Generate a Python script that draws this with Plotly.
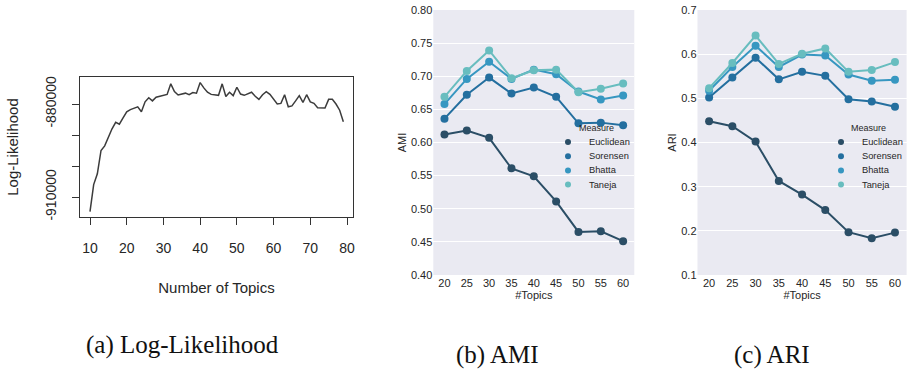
import plotly.graph_objects as go

# ---------------- data ----------------
ll_topics = list(range(10, 80))
ll_values = [
    -914700, -906000, -902500, -895000, -893500, -890500, -888000, -885900, -886500, -884500,
    -882500, -881800, -881300, -880900, -882500, -879300, -878000, -879000, -877800, -877500,
    -877100, -876900, -873500, -876000, -877100, -876800, -876500, -877000, -876300, -876500,
    -873100, -874800, -876200, -876900, -877100, -877200, -873500, -877600, -876200, -877300,
    -874600, -876800, -877200, -876700, -876200, -877500, -878500, -877000, -876000, -876900,
    -878300, -880000, -879800, -877000, -880900, -880600, -879000, -877300, -879500, -877000,
    -879300, -879800, -881200, -881300, -881300, -878500, -878500, -880000, -882000, -885700,
]
ll_tickvals = [-910000, -900000, -890000, -880000]
ll_ticktext = ["-910000", "", "", "-880000"]
ll_xticks = [10, 20, 30, 40, 50, 60, 70, 80]

topics = ["20", "25", "30", "35", "40", "45", "50", "55", "60"]
measures = ["Euclidean", "Sorensen", "Bhatta", "Taneja"]
colors = ["#2b4e66", "#246f9f", "#3797c1", "#68bdbf"]

ami_euclidean = [0.612, 0.618, 0.607, 0.561, 0.549, 0.511, 0.465, 0.466, 0.451]
ami_sorensen = [0.636, 0.672, 0.698, 0.674, 0.683, 0.669, 0.629, 0.630, 0.626]
ami_bhatta = [0.658, 0.696, 0.722, 0.696, 0.710, 0.703, 0.677, 0.665, 0.671]
ami_taneja = [0.669, 0.708, 0.739, 0.697, 0.709, 0.710, 0.676, 0.681, 0.689]

ari_euclidean = [0.448, 0.437, 0.402, 0.313, 0.282, 0.247, 0.197, 0.183, 0.196]
ari_sorensen = [0.502, 0.547, 0.592, 0.543, 0.560, 0.551, 0.498, 0.493, 0.481]
ari_bhatta = [0.517, 0.571, 0.619, 0.571, 0.599, 0.597, 0.554, 0.540, 0.542]
ari_taneja = [0.523, 0.580, 0.642, 0.578, 0.601, 0.613, 0.560, 0.564, 0.582]

ami_series = [ami_euclidean, ami_sorensen, ami_bhatta, ami_taneja]
ari_series = [ari_euclidean, ari_sorensen, ari_bhatta, ari_taneja]

W, H = 907, 373
def px_x(p):
    return p / W
def px_y(p):
    return 1 - p / H

SANS = "Liberation Sans, Arial, sans-serif"
SERIF = "Liberation Serif, DejaVu Serif, serif"
TXT = "#262626"

fig = go.Figure()

# ---------- panel (a) ----------
fig.add_trace(go.Scatter(
    x=ll_topics, y=ll_values, mode="lines",
    line=dict(color="#3c3c3c", width=1.5),
    xaxis="x", yaxis="y", showlegend=False,
))

# ---------- panels (b), (c) ----------
for series, xa, ya in [(ami_series, "x2", "y2"), (ari_series, "x3", "y3")]:
    for name, vals, col in zip(measures, series, colors):
        fig.add_trace(go.Scatter(
            x=topics, y=vals, mode="lines+markers", name=name,
            line=dict(color=col, width=2),
            marker=dict(color=col, size=8),
            xaxis=xa, yaxis=ya, showlegend=False,
        ))

shapes = []
annotations = []

# backgrounds for seaborn-style panels
for xa, ya in [("x2", "y2"), ("x3", "y3")]:
    shapes.append(dict(type="rect", xref=f"{xa} domain", yref=f"{ya} domain",
                       x0=0, x1=1, y0=0, y1=1, fillcolor="#EAEAF2",
                       line=dict(width=0), layer="below"))

# custom legends (title + marker swatch + label), seaborn style compact spacing
LEG_ROW = 14.2
for mark_x, text_x, title_x in [(568, 587, 577), (841, 860, 849)]:
    annotations.append(dict(text="Measure", x=px_x(title_x), y=px_y(128), xref="paper", yref="paper",
                            xanchor="left", yanchor="middle", showarrow=False,
                            font=dict(family=SANS, size=9, color=TXT)))
    for i, (name, col) in enumerate(zip(measures, colors)):
        cy = 142 + i * LEG_ROW
        r = 3.0
        shapes.append(dict(type="circle", xref="paper", yref="paper",
                           x0=px_x(mark_x - r), x1=px_x(mark_x + r),
                           y0=px_y(cy + r), y1=px_y(cy - r),
                           fillcolor=col, line=dict(width=0), layer="above"))
        annotations.append(dict(text=name, x=px_x(text_x), y=px_y(cy), xref="paper", yref="paper",
                                xanchor="left", yanchor="middle", showarrow=False,
                                font=dict(family=SANS, size=9.3, color=TXT)))

# captions
for text, cx, cy in [("(a) Log-Likelihood", 182.5, 345), ("(b) AMI", 497.5, 355), ("(c) ARI", 771.5, 355)]:
    annotations.append(dict(text=text, x=px_x(cx), y=px_y(cy), xref="paper", yref="paper",
                            xanchor="center", yanchor="middle", showarrow=False,
                            font=dict(family=SERIF, size=25, color="#111")))

fig.update_layout(
    width=W, height=H,
    margin=dict(l=0, r=0, t=0, b=0),
    paper_bgcolor="white", plot_bgcolor="rgba(0,0,0,0)",
    showlegend=False,
    xaxis=dict(
        domain=[px_x(80), px_x(353)], range=[7.276, 81.63],
        tickvals=ll_xticks, ticks="outside", ticklen=7, tickcolor="#333",
        ticklabelstandoff=11,
        showgrid=False, zeroline=False,
        showline=True, linecolor="#333", linewidth=1, mirror=True,
        tickfont=dict(family=SANS, size=14, color=TXT),
        title=dict(text="Number of Topics", font=dict(family=SANS, size=15, color=TXT), standoff=27),
        anchor="y", automargin=False,
    ),
    yaxis=dict(
        domain=[px_y(217), px_y(77)], range=[-916452, -871290],
        tickvals=ll_tickvals, ticktext=ll_ticktext, tickangle=-90,
        ticks="outside", ticklen=7, tickcolor="#333",
        ticklabelstandoff=10,
        showgrid=False, zeroline=False,
        showline=True, linecolor="#333", linewidth=1, mirror=True,
        tickfont=dict(family=SANS, size=14, color=TXT),
        title=dict(text="Log-Likelihood", font=dict(family=SANS, size=15, color=TXT), standoff=21),
        anchor="x", automargin=False,
    ),
    xaxis2=dict(
        domain=[px_x(433.3), px_x(634.3)], type="category", range=[-0.5, 8.5],
        showgrid=False, zeroline=False, showline=False, ticks="",
        tickfont=dict(family=SANS, size=11, color=TXT),
        title=dict(text="#Topics", font=dict(family=SANS, size=11, color=TXT), standoff=2),
        anchor="y2", automargin=False,
    ),
    yaxis2=dict(
        domain=[px_y(275), px_y(10)], range=[0.40, 0.80],
        tickvals=[0.40, 0.45, 0.50, 0.55, 0.60, 0.65, 0.70, 0.75, 0.80], tickformat=".2f",
        showgrid=True, gridcolor="white", gridwidth=1, zeroline=False, showline=False, ticks="",
        tickfont=dict(family=SANS, size=11, color=TXT),
        title=dict(text="AMI", font=dict(family=SANS, size=11, color=TXT), standoff=2),
        anchor="x2", automargin=False,
    ),
    xaxis3=dict(
        domain=[px_x(697.5), px_x(906.6)], type="category", range=[-0.5, 8.5],
        showgrid=False, zeroline=False, showline=False, ticks="",
        tickfont=dict(family=SANS, size=11, color=TXT),
        title=dict(text="#Topics", font=dict(family=SANS, size=11, color=TXT), standoff=2),
        anchor="y3", automargin=False,
    ),
    yaxis3=dict(
        domain=[px_y(275), px_y(10)], range=[0.1, 0.7],
        tickvals=[0.1, 0.2, 0.3, 0.4, 0.5, 0.6, 0.7], tickformat=".1f",
        showgrid=True, gridcolor="white", gridwidth=1, zeroline=False, showline=False, ticks="",
        tickfont=dict(family=SANS, size=11, color=TXT),
        title=dict(text="ARI", font=dict(family=SANS, size=11, color=TXT), standoff=2),
        anchor="x3", automargin=False,
    ),
    shapes=shapes,
    annotations=annotations,
)

fig.write_html("out.html")
